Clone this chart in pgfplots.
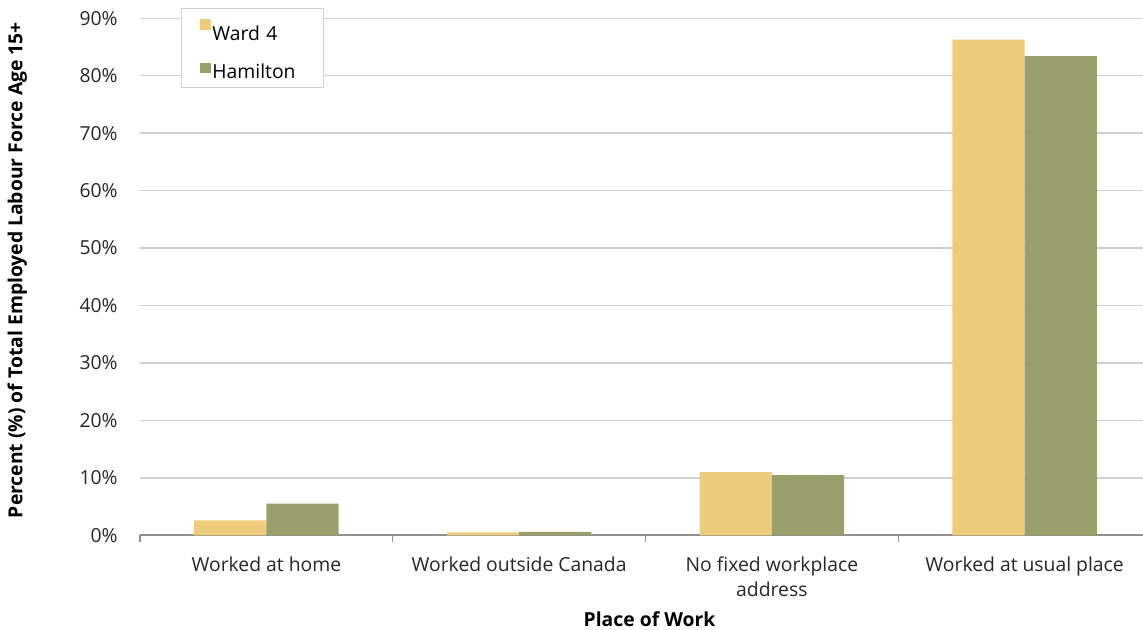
\documentclass[border=0pt]{standalone}
\usepackage{pgfplots}
\pgfplotsset{compat=1.18}
\usepackage{fontspec}
\setmainfont{Open Sans}
\definecolor{ward}{HTML}{EDCD7D}
\definecolor{ham}{HTML}{989F6B}
\definecolor{gridc}{HTML}{D0D0D0}
\definecolor{axc}{HTML}{8F8F8F}
\begin{document}
\begin{tikzpicture}
\begin{axis}[
  scale only axis, width=752.25pt, height=387.8pt,
  xmin=-0.5, xmax=3.4684, ymin=0, ymax=90,
  ybar=0pt, bar width=0.286,
  axis lines*=left,
  y axis line style={draw=none},
  x axis line style={draw=axc, line width=1.5pt, -},
  ymajorgrids, grid style={draw=gridc, line width=1.1pt},
  ytick={0,10,...,90},
  yticklabels={0\%,10\%,20\%,30\%,40\%,50\%,60\%,70\%,80\%,90\%},
  ytick style={draw=none},
  yticklabel style={font=\fontsize{14.5}{17}\selectfont, text=black!85, xshift=-9pt},
  xtick={0,1,2,3},
  xticklabels={Worked at home, Worked outside Canada, {No fixed workplace\\address}, Worked at usual place},
  xticklabel style={font=\fontsize{14.5}{18.75}\selectfont, text=black!85, align=center, anchor=north, yshift=-8pt},
  major x tick style={draw=none},
  minor xtick={-0.5,0.5,1.5,2.5},
  minor x tick style={draw=axc, line width=1pt},
  minor tick length=5pt,
  tick align=outside, xtick pos=bottom,
  xlabel={\bfseries Place of Work},
  xlabel style={font=\fontsize{14.5}{17}\selectfont, at={(axis description cs:0.508,-0.1615)}, anchor=center},
  ylabel={\bfseries Percent (\%) of Total Employed Labour Force Age 15+},
  ylabel style={font=\fontsize{14.5}{17}\selectfont, at={(axis description cs:-0.1223,0.513)}, anchor=center},
  legend style={at={(0.0409,1.0199)}, anchor=north west, draw=gridc, line width=1.1pt, fill=white,
    font=\fontsize{14.5}{17}\selectfont, inner xsep=14pt, inner ysep=4pt, row sep=14pt,
    nodes={inner sep=1pt, text width=68.5pt, align=left}},
  legend cell align=left,
  legend image code/.code={\fill[#1] (0pt,-0.75pt) rectangle (8pt,7.25pt);},
]
\addplot[fill=ward, draw=none] coordinates {(0,2.6) (1,0.5) (2,11.0) (3,86.3)};
\addplot[fill=ham, draw=none] coordinates {(0,5.5) (1,0.6) (2,10.5) (3,83.4)};
\legend{\rule{0pt}{19pt}Ward 4, Hamilton}
\end{axis}
\pgfresetboundingbox
\path (current axis.south west) ++(-105pt,-70.9pt) coordinate (bl);
\path (current axis.north east) ++(0pt,13.7pt) coordinate (tr);
\path[use as bounding box] (bl) rectangle (tr);
\end{tikzpicture}
\end{document}
